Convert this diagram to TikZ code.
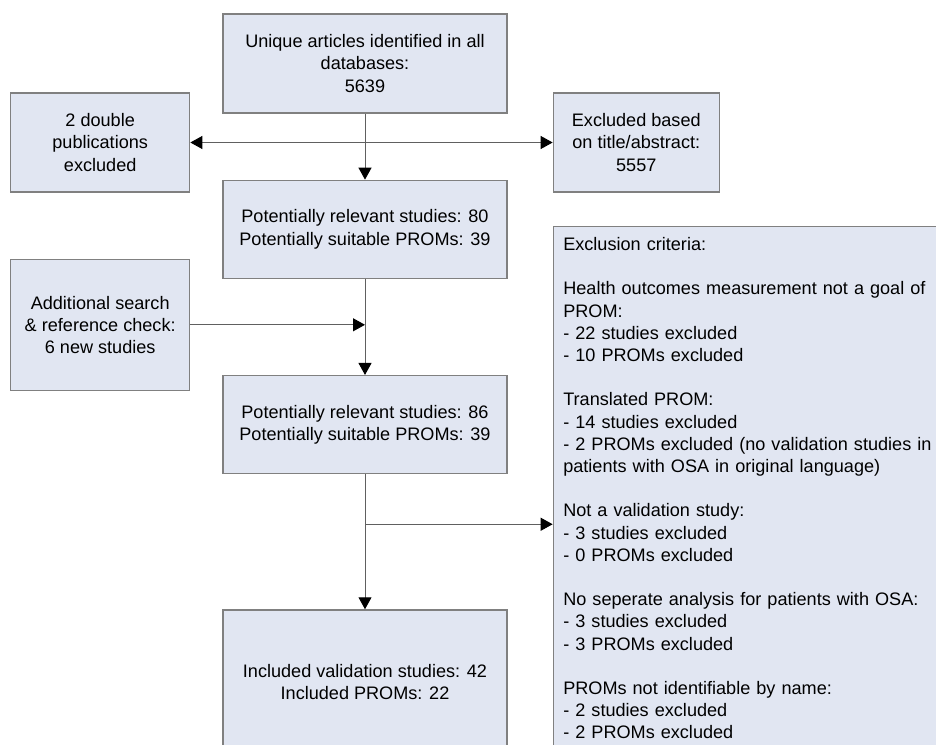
\documentclass[tikz,border=0pt]{standalone}
\usepackage{fontspec}
\setmainfont{Liberation Sans}
\usepackage{tikz}
\usetikzlibrary{arrows.meta, positioning}

\definecolor{boxfill}{RGB}{225,230,242}
\definecolor{boxline}{RGB}{128,128,128}
\definecolor{flowline}{RGB}{96,96,96}

\begin{document}
\begin{tikzpicture}[
		box/.style={rectangle,draw=boxline,fill=boxfill,line width=0.65pt,align=center,inner sep=0pt,font=\fontsize{9.05pt}{11.1pt}\selectfont},
		wide/.style={box,minimum width=142pt,minimum height=49pt},
		side/.style={box,minimum width=89.5pt,minimum height=49.5pt},
		flow/.style={draw=flowline,line width=0.5pt,-{Triangle[length=6pt,width=6.5pt,color=black]}},
		both/.style={flow,{Triangle[length=6pt,width=6.5pt,color=black]}-{Triangle[length=6pt,width=6.5pt,color=black]}}
	]
		
		\useasboundingbox (0,0) rectangle (468pt,-372pt);
		
		\node[wide,minimum height=49.5pt] (unique) at (182.5pt,-31.75pt) {Unique articles identified in all\\databases:\\5639};
		\node[side,left=16pt of unique,yshift=-39.5pt] (double) {2 double\\publications\\excluded};
		\node[side,minimum width=83pt,right=22.5pt of unique,yshift=-39.5pt] (titleabs) {Excluded based\\on title/abstract:\\5557};
		
		\node[wide,below=33pt of unique] (relevant) {Potentially relevant studies: 80\\Potentially suitable PROMs: 39};
		\node[side,minimum height=65.5pt,left=16pt of relevant,yshift=-47.75pt] (additional) {Additional search\\\& reference check:\\6 new studies};
		\node[wide,below=48pt of relevant] (relevantb) {Potentially relevant studies: 86\\Potentially suitable PROMs: 39};
		\node[wide,minimum height=72pt,below=67.5pt of relevantb] (included) {Included validation studies: 42\\Included PROMs: 22};
		
		\node[box,align=left,text width=200pt,inner xsep=5pt,inner ysep=5.5pt,below=16.5pt of titleabs.south west,anchor=north west] (criteria) {Exclusion criteria:\\[11.1pt]Health outcomes measurement not a goal of\\PROM:\\- 22 studies excluded\\- 10 PROMs excluded\\[11.1pt]Translated PROM:\\- 14 studies excluded\\- 2 PROMs excluded (no validation studies in\\patients with OSA in original language)\\[11.1pt]Not a validation study:\\- 3 studies excluded\\- 0 PROMs excluded\\[11.1pt]No seperate analysis for patients with OSA:\\- 3 studies excluded\\- 3 PROMs excluded\\[11.1pt]PROMs not identifiable by name:\\- 2 studies excluded\\- 2 PROMs excluded\\[11.1pt]};
		
		\coordinate (join) at (additional -| relevant);
		\coordinate[below=25pt of relevantb.south] (split);
		
		\draw[both] (double) -- (titleabs);
		\draw[flow] (unique) -- (relevant);
		\draw[flow] (additional) -- (join);
		\draw[flow] (relevant) -- (relevantb);
		\draw[flow] (relevantb) -- (included);
		\draw[flow] (split) -- (criteria.west |- split);
		
\end{tikzpicture}
\end{document}
